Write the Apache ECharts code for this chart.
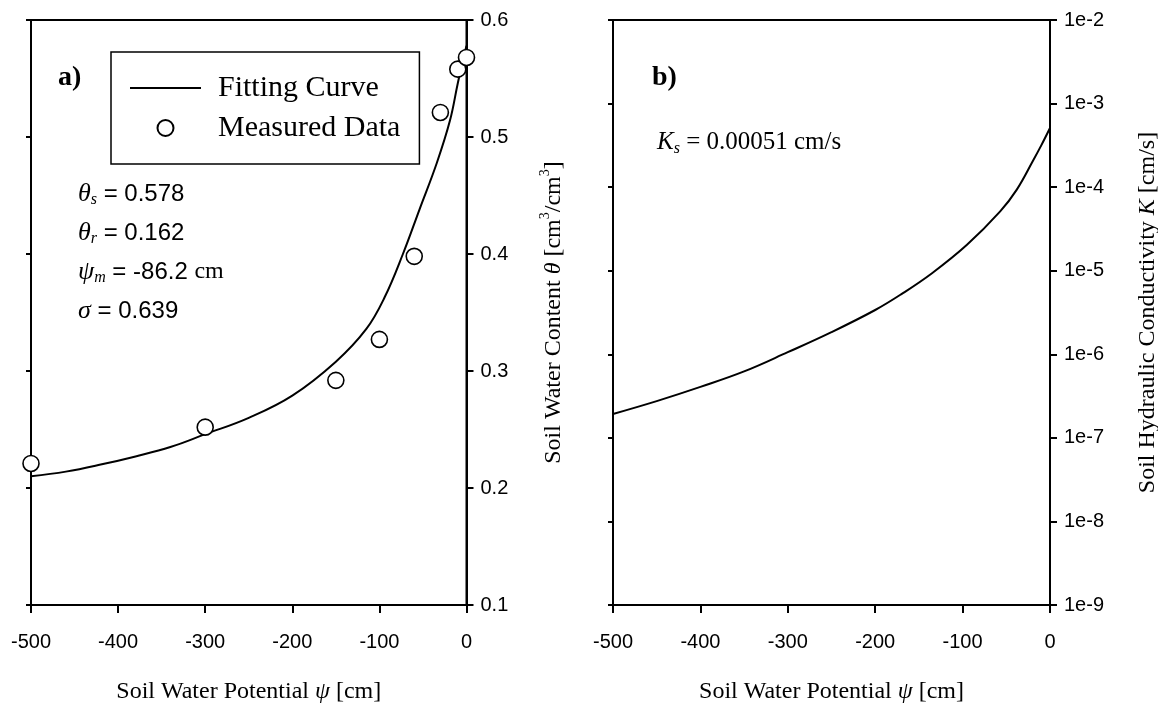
<!DOCTYPE html>
<html>
<head>
<meta charset="utf-8">
<script src="https://cdn.jsdelivr.net/npm/echarts@6/dist/echarts.min.js"></script>
<style>
  html, body { margin: 0; padding: 0; background: #fff; }
  #chart { width: 1158px; height: 704px; }
</style>
</head>
<body>
<div id="chart"></div>
<script>
// Panel a) soil water retention: fitted curve and measured points
const curvePsi   = [-500, -460, -420, -380, -340, -300, -250, -200, -150, -115, -94, -73, -54, -34, -19, -10, -4, 0];
const curveTheta = [0.210, 0.214, 0.220, 0.227, 0.235, 0.246, 0.260, 0.279, 0.308, 0.336, 0.363, 0.400, 0.438, 0.478, 0.514, 0.546, 0.566, 0.578];
const measuredPsi   = [-500, -300, -150, -100, -60, -30, -10, 0];
const measuredTheta = [0.221, 0.252, 0.292, 0.327, 0.398, 0.521, 0.558, 0.568];

// Panel b) hydraulic conductivity K [cm/s]
const condPsi = [-500, -450, -400, -350, -300, -250, -200, -170, -135, -95, -57, -38, -19, -10, 0];
const condK   = [1.932e-7, 2.754e-7, 4.074e-7, 6.237e-7, 1.059e-6, 1.841e-6, 3.388e-6, 5.248e-6,
                 9.333e-6, 2.042e-5, 5.129e-5, 9.333e-5, 2.113e-4, 3.162e-4, 5.105e-4];

// Axis ranges
const psiRange = [-500, 0];
const thetaRange = [0.1, 0.6];
const kRange = [1e-9, 1e-2];

const SANS = 'Liberation Sans, Arial, Helvetica, sans-serif';
const SERIF = 'Liberation Serif, Times New Roman, serif';

const zip = (a, b) => a.map((v, i) => [v, b[i]]);

const lineBlack = { color: '#000', width: 2 };

function psiAxis(gridIndex) {
  return {
    type: 'value', gridIndex, min: psiRange[0], max: psiRange[1], interval: 100,
    position: 'bottom',
    axisLine: { show: true, onZero: false, lineStyle: lineBlack },
    axisTick: { show: true, inside: false, length: 8, lineStyle: lineBlack },
    axisLabel: { color: '#000', fontFamily: SANS, fontSize: 20, margin: 27 },
    splitLine: { show: false },
    name: 'Soil Water Potential {i|ψ} [cm]',
    nameLocation: 'middle',
    nameGap: 75,
    nameTextStyle: {
      color: '#000', fontFamily: SERIF, fontSize: 24,
      rich: { i: { fontFamily: SERIF, fontStyle: 'italic', fontSize: 24, color: '#000' } }
    }
  };
}

// Unlabelled ticks along the left spine of each panel
function spineTicks(gridIndex, type, range) {
  const axis = {
    type, gridIndex, position: 'left', min: range[0], max: range[1],
    axisLine: { show: true, onZero: false, lineStyle: lineBlack },
    axisTick: { show: true, inside: false, length: 5, lineStyle: lineBlack },
    axisLabel: { show: false },
    splitLine: { show: false }
  };
  if (type === 'log') { axis.logBase = 10; axis.interval = 1; } else { axis.interval = 0.1; }
  return axis;
}

const option = {
  backgroundColor: '#fff',
  animation: false,
  grid: [
    { left: 31, top: 20, width: 435.5, height: 585, show: true, borderColor: '#000', borderWidth: 2,
      backgroundColor: 'transparent', outerBoundsMode: 'none', containLabel: false },
    { left: 613, top: 20, width: 437, height: 585, show: true, borderColor: '#000', borderWidth: 2,
      backgroundColor: 'transparent', outerBoundsMode: 'none', containLabel: false }
  ],
  xAxis: [psiAxis(0), psiAxis(1)],
  yAxis: [
    {
      type: 'value', gridIndex: 0, position: 'right', min: thetaRange[0], max: thetaRange[1], interval: 0.1,
      axisLine: { show: true, onZero: false, lineStyle: lineBlack },
      axisTick: { show: true, inside: false, length: 7, lineStyle: lineBlack },
      axisLabel: { color: '#000', fontFamily: SANS, fontSize: 20, margin: 14, formatter: v => v.toFixed(1) },
      splitLine: { show: false },
      name: 'Soil Water Content {i|θ} [cm{sup|3}/cm{sup|3}]',
      nameLocation: 'middle', nameRotate: 90, nameGap: 72,
      nameTextStyle: {
        color: '#000', fontFamily: SERIF, fontSize: 24, lineHeight: 30,
        rich: {
          i: { fontFamily: SERIF, fontStyle: 'italic', fontSize: 24, lineHeight: 30, color: '#000' },
          sup: { fontFamily: SERIF, fontSize: 14, lineHeight: 14, verticalAlign: 'top', color: '#000' }
        }
      }
    },
    spineTicks(0, 'value', thetaRange),
    {
      type: 'log', logBase: 10, gridIndex: 1, position: 'right', min: kRange[0], max: kRange[1], interval: 1,
      axisLine: { show: true, onZero: false, lineStyle: lineBlack },
      axisTick: { show: true, inside: false, length: 7, lineStyle: lineBlack },
      axisLabel: { color: '#000', fontFamily: SANS, fontSize: 20, margin: 14,
                   formatter: v => '1e' + Math.round(Math.log10(v)) },
      minorTick: { show: false },
      splitLine: { show: false },
      name: 'Soil Hydraulic Conductivity {i|K} [cm/s]',
      nameLocation: 'middle', nameRotate: 90, nameGap: 86,
      nameTextStyle: {
        color: '#000', fontFamily: SERIF, fontSize: 24,
        rich: { i: { fontFamily: SERIF, fontStyle: 'italic', fontSize: 24, color: '#000' } }
      }
    },
    spineTicks(1, 'log', kRange)
  ],
  legend: {
    left: 111, top: 52, orient: 'vertical',
    data: [
      { name: 'Fitting Curve', itemStyle: { opacity: 0 } },
      { name: 'Measured Data' }
    ],
    borderColor: '#000', borderWidth: 1.5,
    padding: [21, 19, 21, 18],
    itemWidth: 71, itemHeight: 16, itemGap: 10,
    backgroundColor: '#fff',
    textStyle: { color: '#000', fontFamily: SERIF, fontSize: 30, padding: [0, 0, 0, 12] }
  },
  graphic: [
    { type: 'text', left: 58, top: 64, style: { text: 'a)', font: 'bold 28px ' + SERIF, fill: '#000' } },
    { type: 'text', left: 652, top: 64, style: { text: 'b)', font: 'bold 28px ' + SERIF, fill: '#000' } },
    {
      type: 'text', left: 78, top: 181,
      style: {
        text: '{g|θ}{s|s}{t| = 0.578}\n{g|θ}{s|r}{t| = 0.162}\n{g|ψ}{s|m}{t| = -86.2 }{c|cm}\n{g|σ}{t| = 0.639}',
        fill: '#000',
        rich: {
          g: { fontFamily: SERIF, fontStyle: 'italic', fontSize: 26, lineHeight: 39, fill: '#000' },
          s: { fontFamily: SERIF, fontStyle: 'italic', fontSize: 16, lineHeight: 18, verticalAlign: 'bottom', padding: [0, 0, 6, 0], fill: '#000' },
          t: { fontFamily: SANS, fontSize: 24, lineHeight: 39, fill: '#000' },
          c: { fontFamily: SERIF, fontSize: 24, lineHeight: 39, fill: '#000' }
        }
      }
    },
    {
      type: 'text', left: 657, top: 130,
      style: {
        text: '{k|K}{s|s}{t| = 0.00051 cm/s}',
        fill: '#000',
        rich: {
          k: { fontFamily: SERIF, fontStyle: 'italic', fontSize: 25, lineHeight: 32, fill: '#000' },
          s: { fontFamily: SERIF, fontStyle: 'italic', fontSize: 16, lineHeight: 18, verticalAlign: 'bottom', padding: [0, 0, 2, 0], fill: '#000' },
          t: { fontFamily: SERIF, fontSize: 25, lineHeight: 32, fill: '#000' }
        }
      }
    }
  ],
  series: [
    {
      name: 'Fitting Curve', type: 'line', xAxisIndex: 0, yAxisIndex: 0,
      data: zip(curvePsi, curveTheta),
      symbol: 'none', smooth: 0.4,
      lineStyle: { color: '#000', width: 2 },
      itemStyle: { color: '#000' },
      z: 3
    },
    {
      name: 'Measured Data', type: 'scatter', xAxisIndex: 0, yAxisIndex: 0,
      data: zip(measuredPsi, measuredTheta),
      symbol: 'circle', symbolSize: 16,
      itemStyle: { color: '#fff', borderColor: '#000', borderWidth: 1.6, opacity: 1 },
      z: 4
    },
    {
      name: 'Conductivity', type: 'line', xAxisIndex: 1, yAxisIndex: 2,
      data: zip(condPsi, condK),
      symbol: 'none', smooth: 0.4,
      lineStyle: { color: '#000', width: 2 },
      z: 3
    }
  ]
};

const chart = echarts.init(document.getElementById('chart'), null, { renderer: 'canvas' });
chart.setOption(option);
</script>
</body>
</html>
